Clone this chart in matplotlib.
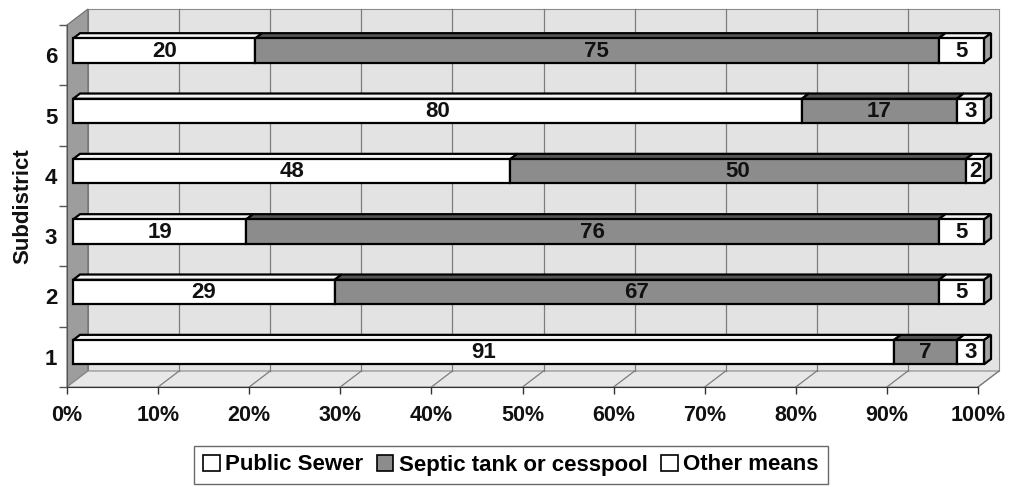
import matplotlib.pyplot as plt
from matplotlib.patches import Polygon, Patch

plt.rcParams['font.family'] = ['Liberation Sans', 'DejaVu Sans']
plt.rcParams['font.weight'] = 'bold'
plt.rcParams['axes.labelweight'] = 'bold'

# sewage disposal by subdistrict (percent of households)
subdistricts = ['1', '2', '3', '4', '5', '6']
public_sewer = [91, 29, 19, 48, 80, 20]
septic_tank = [7, 67, 76, 50, 17, 75]
other_means = [3, 5, 5, 2, 3, 5]
series_names = ['Public Sewer', 'Septic tank or cesspool', 'Other means']

W, H = 1013, 487
fig = plt.figure(figsize=(W / 100, H / 100), dpi=100)
fig.patch.set_facecolor('white')

# front plane: 0..100 % -> px 67..978, categories 0.5..6.5 -> px 387..25 (from top)
ax = fig.add_axes([67 / W, (H - 387) / H, 911 / W, 362 / H])
ax.set_xlim(0, 100)
ax.set_ylim(0.5, 6.5)
ax.patch.set_visible(False)

px_x = 100 / 911
px_y = 6 / 362
DX, DY = 21 * px_x, 16 * px_y          # depth of the 3-D box


def depth(f):
    return f * DX, f * DY


def poly(pts, fc, ec, lw, z):
    ax.add_patch(Polygon(pts, closed=True, facecolor=fc, edgecolor=ec,
                         linewidth=lw, zorder=z, clip_on=False))


# walls and floor
y0, y1 = 0.5, 6.5
poly([(DX, y0 + DY), (100 + DX, y0 + DY), (100 + DX, y1 + DY), (DX, y1 + DY)],
     '#e3e3e3', '#8a8a8a', 0.8, 0)
poly([(0, y0), (DX, y0 + DY), (DX, y1 + DY), (0, y1)], '#9d9d9d', '#6a6a6a', 0.8, 0.5)
poly([(0, y0), (100, y0), (100 + DX, y0 + DY), (DX, y0 + DY)], '#e8e8e8', '#8a8a8a', 0.8, 0.5)

for p in range(10, 100, 10):
    ax.plot([p + DX, p + DX], [y0 + DY, y1 + DY], color='#7c7c7c', lw=0.9, zorder=1,
            clip_on=False)
for p in range(10, 101, 10):
    ax.plot([p, p + DX], [y0, y0 + DY], color='#7c7c7c', lw=0.9, zorder=1, clip_on=False)

# stacked 3-D bars
fx1, fy1 = depth(0.29)
fx2, fy2 = depth(0.62)
hh = 0.2
face_cols = ['white', '#8c8c8c', 'white']
top_cols = ['#f4f4f4', '#555555', '#f4f4f4']
side_col = '#a4a4a4'

for i, cat in enumerate(subdistricts):
    c = i + 1
    vals = [public_sewer[i], septic_tank[i], other_means[i]]
    total = sum(vals)
    left = 0
    for k, v in enumerate(vals):
        a = left / total * 100
        b = (left + v) / total * 100
        left += v
        bot, top = c - hh + fy1, c + hh + fy1
        poly([(a + fx1, top), (b + fx1, top), (b + fx2, top + fy2 - fy1),
              (a + fx2, top + fy2 - fy1)], top_cols[k], 'black', 1.6, 3)
        poly([(a + fx1, bot), (b + fx1, bot), (b + fx1, top), (a + fx1, top)],
             face_cols[k], 'black', 1.6, 3)
        if k == len(vals) - 1:
            poly([(b + fx1, bot), (b + fx2, bot + fy2 - fy1), (b + fx2, top + fy2 - fy1),
                  (b + fx1, top)], side_col, 'black', 1.6, 3)
        ax.text((a + b) / 2 + fx1, c + fy1 - 0.01, str(v), ha='center', va='center',
                fontsize=16, color='#111111', zorder=4)

# axes
for s in ['top', 'right']:
    ax.spines[s].set_visible(False)
ax.spines['bottom'].set_color('#333333')
ax.spines['left'].set_color('#555555')
ax.spines['bottom'].set_zorder(2)
ax.spines['left'].set_zorder(2)

ax.set_xticks(range(0, 101, 10))
ax.set_xticklabels([f'{p}%' for p in range(0, 101, 10)], fontsize=15.5, color='#111111')
ax.tick_params(axis='x', direction='out', length=5, width=1, color='#333333', pad=8)

ax.set_yticks(range(1, 7))
ax.set_yticklabels(subdistricts, fontsize=16, color='#111111')
ax.set_yticks([k + 0.5 for k in range(0, 7)], minor=True)
ax.tick_params(axis='y', which='major', length=0, pad=7)
ax.tick_params(axis='y', which='minor', length=6, width=1, color='#555555')
ax.set_ylabel('Subdistrict', fontsize=16, color='#111111', labelpad=8)

handles = [Patch(facecolor=face_cols[k], edgecolor='black', linewidth=1.2)
           for k in range(3)]
fig.legend(handles, series_names, loc='center', bbox_to_anchor=(511 / W, 1 - 465 / H),
           ncol=3, fontsize=16, frameon=True, fancybox=False, edgecolor='#444444',
           handlelength=0.75, handleheight=0.75, handletextpad=0.25, columnspacing=0.6,
           borderpad=0.4, borderaxespad=0)

fig.savefig('out.png', dpi=100)
